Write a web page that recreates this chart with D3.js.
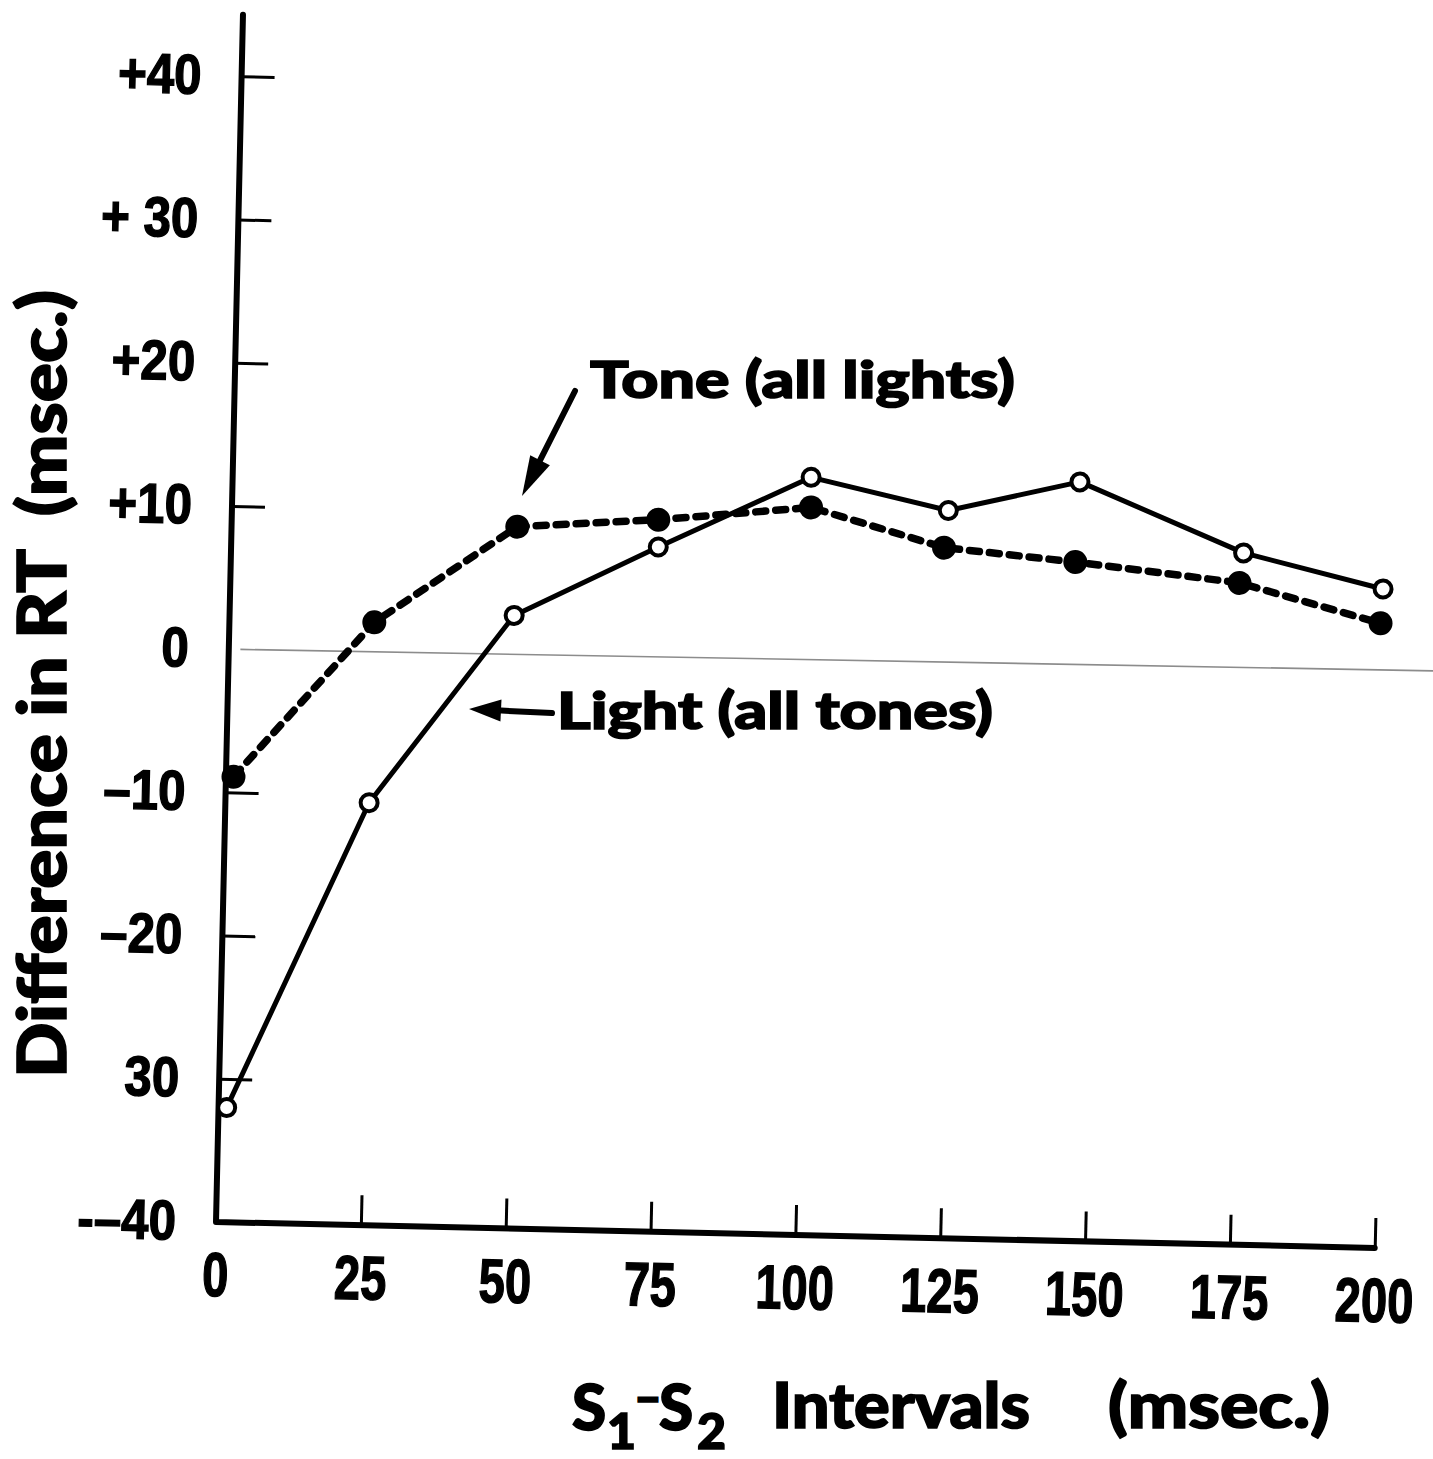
<!DOCTYPE html>
<html>
<head>
<meta charset="utf-8">
<script src="https://cdn.jsdelivr.net/npm/d3@7"></script>
<style>
  html, body { margin: 0; padding: 0; background: #fff; }
  svg { display: block; }
  .num { font-family: "Liberation Sans", Arial, sans-serif; font-weight: 700; fill: #000; stroke: #000; stroke-width: 1.4px; }
  .ttl { font-family: Lato, "Open Sans", "DejaVu Sans", sans-serif; font-weight: 900; fill: #000; stroke: #000; stroke-width: 1.6px; white-space: pre; }
</style>
</head>
<body>
<svg id="chart" width="1433" height="1459"></svg>
<script>
// S1–S2 intervals (msec.) and axis tick labels
const intervals   = [0, 25, 50, 75, 100, 125, 150, 175, 200];
const xTickLabels = ["0", "25", "50", "75", "100", "125", "150", "175", "200"];
const yTicks      = [-40, -30, -20, -10, 0, 10, 20, 30, 40];
const yTickLabels = ["-\u201340", "30", "\u201320", "\u201310", "0", "+10", "+20", "+ 30", "+40"];

// Tone (all lights): plotted interval and difference in RT (msec.)
const toneX = [1.3, 25.0, 49.3, 73.6, 99.9, 123.0, 145.7, 174.1, 198.6];
const toneY = [-8.9, 2.1, 9.0, 9.7, 10.8, 8.2, 7.4, 6.2, 3.6];

// Light (all tones): plotted interval and difference in RT (msec.)
const lightX = [1.4, 24.8, 49.1, 73.7, 99.8, 123.6, 146.2, 174.7, 198.9];
const lightY = [-32.0, -10.5, 2.8, 7.8, 12.9, 10.8, 13.0, 8.3, 6.0];

const svg = d3.select("#chart");

// squeeze tick labels horizontally (condensed numerals) about their anchor point
function condense(sel, factor) {
  sel.each(function () {
    const t = d3.select(this);
    const x0 = +t.attr("x") || 0;
    t.attr("x", x0 / factor).attr("transform", `scale(${factor},1)`);
  });
}
// fit a text element to a given width
function fitWidth(sel, width) {
  sel.attr("textLength", width).attr("lengthAdjust", "spacingAndGlyphs");
  return sel;
}

// plot frame: origin at the axis corner, the whole sheet sits slightly tilted
const origin = [216, 1222];
const tilt = 1.28;
const yAxisTop = 44.3;

const x = d3.scaleLinear().domain([0, 200]).range([0, 1159]);
const y = d3.scaleLinear().domain([-40, 40]).range([0, -1146]);

const plot = svg.append("g")
  .attr("transform", `translate(${origin[0]},${origin[1]}) rotate(${tilt})`);

// faint zero reference line
plot.append("line")
  .attr("x1", x(2)).attr("x2", x(209.5))
  .attr("y1", y(0)).attr("y2", y(0))
  .attr("transform", `rotate(-0.25, ${x(2)}, ${y(0)})`)
  .attr("stroke", "#8c8c8c").attr("stroke-width", 1.6);

// y axis (ticks pointing inward, labels on the left)
const gy = plot.append("g")
  .attr("font-size", null).attr("font-family", null)
  .call(d3.axisLeft(y)
    .tickValues(yTicks)
    .tickFormat((d, i) => yTickLabels[i])
    .tickSizeInner(-33).tickSizeOuter(0).tickPadding(40));
gy.select(".domain").remove();
gy.selectAll(".tick line").attr("stroke", "#000").attr("stroke-width", 3);
gy.selectAll(".tick").filter(d => d === 0 || d === -40).select("line").remove();
gy.selectAll(".tick text").attr("class", "num").style("font-size", "56px");
condense(gy.selectAll(".tick text"), 0.88);

// x axis (ticks pointing upward, labels below)
const gx = plot.append("g")
  .attr("font-size", null).attr("font-family", null)
  .call(d3.axisBottom(x)
    .tickValues(intervals)
    .tickFormat((d, i) => xTickLabels[i])
    .tickSizeInner(-30).tickSizeOuter(0).tickPadding(30));
gx.select(".domain").remove();
gx.selectAll(".tick line").attr("stroke", "#000").attr("stroke-width", 3);
gx.selectAll(".tick").filter(d => d === 0).select("line").remove();
gx.selectAll(".tick text").attr("class", "num").style("font-size", "62px");
condense(gx.selectAll(".tick text"), 0.76);

// axis lines
plot.append("path")
  .attr("d", `M0,${y(yAxisTop)} L0,${y(-40)} L${x(200)},${y(-40)}`)
  .attr("fill", "none").attr("stroke", "#000")
  .attr("stroke-width", 6).attr("stroke-linejoin", "round").attr("stroke-linecap", "round");

const line = d3.line().x(d => x(d[0])).y(d => y(d[1]));
const lightPts = lightX.map((v, i) => [v, lightY[i]]);
const tonePts = toneX.map((v, i) => [v, toneY[i]]);

// Light series: solid line, open circles
plot.append("path")
  .attr("d", line(lightPts))
  .attr("fill", "none").attr("stroke", "#000").attr("stroke-width", 5)
  .attr("stroke-linejoin", "round");

// Tone series: dashed line, filled circles
plot.append("path")
  .attr("d", line(tonePts))
  .attr("fill", "none").attr("stroke", "#000").attr("stroke-width", 7.5)
  .attr("stroke-dasharray", "10 10").attr("stroke-linecap", "round");

plot.selectAll("circle.tone").data(tonePts).join("circle")
  .attr("class", "tone")
  .attr("cx", d => x(d[0])).attr("cy", d => y(d[1]))
  .attr("r", 12).attr("fill", "#000");

plot.selectAll("circle.light").data(lightPts).join("circle")
  .attr("class", "light")
  .attr("cx", d => x(d[0])).attr("cy", d => y(d[1]))
  .attr("r", 8.5).attr("fill", "#fff").attr("stroke", "#000").attr("stroke-width", 4);

// annotations
function arrow(x1, y1, x2, y2, len, half) {
  const dx = x2 - x1, dy = y2 - y1, L = Math.hypot(dx, dy);
  const ux = dx / L, uy = dy / L;
  const bx = x2 - ux * len, by = y2 - uy * len;
  svg.append("line")
    .attr("x1", x1).attr("y1", y1).attr("x2", bx + ux * 4).attr("y2", by + uy * 4)
    .attr("stroke", "#000").attr("stroke-width", 6).attr("stroke-linecap", "round");
  svg.append("path")
    .attr("d", `M${x2},${y2} L${bx - uy * half},${by + ux * half} L${bx + uy * half},${by - ux * half} Z`)
    .attr("fill", "#000");
}

fitWidth(svg.append("text").attr("class", "ttl")
  .attr("x", 590).attr("y", 398).style("font-size", "52px")
  .text("Tone (all lights)"), 425);
arrow(575, 391, 522, 496, 40, 11);

fitWidth(svg.append("text").attr("class", "ttl")
  .attr("x", 557).attr("y", 729).style("font-size", "52px")
  .text("Light (all tones)"), 436);
arrow(552, 713, 469, 709, 32, 11);

// y-axis title
fitWidth(svg.append("text").attr("class", "ttl")
  .attr("transform", "translate(66,684) rotate(-90)")
  .attr("text-anchor", "middle").style("font-size", "66px")
  .text("Difference in RT  (msec.)"), 788);

// x-axis title: S1 – S2 Intervals (msec.)
const xt = svg.append("g");
xt.append("text").attr("class", "ttl").attr("x", 572).attr("y", 1430).style("font-size", "62px").text("S");
xt.append("text").attr("class", "ttl").attr("x", 607).attr("y", 1449).style("font-size", "50px").text("1");
xt.append("text").attr("class", "ttl").attr("x", 634).attr("y", 1414).style("font-size", "48px").text("\u2013");
xt.append("text").attr("class", "ttl").attr("x", 659).attr("y", 1430).style("font-size", "62px").text("S");
xt.append("text").attr("class", "ttl").attr("x", 697).attr("y", 1449).style("font-size", "50px").text("2");
fitWidth(xt.append("text").attr("class", "ttl").attr("x", 772).attr("y", 1428).style("font-size", "62px")
  .text("Intervals"), 258);
fitWidth(xt.append("text").attr("class", "ttl").attr("x", 1108).attr("y", 1428).style("font-size", "62px")
  .text("(msec.)"), 222);
</script>
</body>
</html>
